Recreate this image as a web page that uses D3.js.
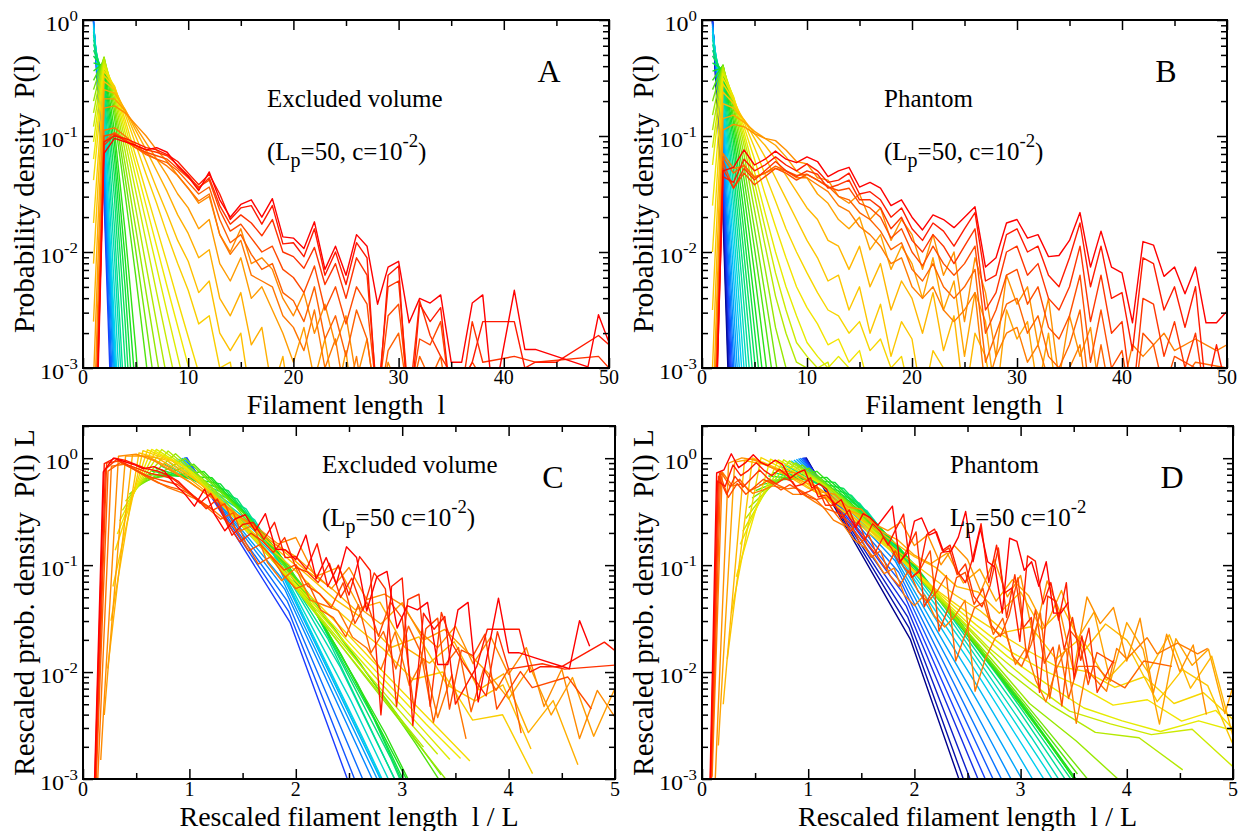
<!DOCTYPE html>
<html>
<head>
<meta charset="utf-8">
<title>Filament length distributions</title>
<script src="https://cdn.jsdelivr.net/npm/d3@7"></script>
<style>
  body { margin: 0; background: #fff; }
  svg text { font-family: "Liberation Serif", "Times New Roman", Times, serif; fill: #000; }
</style>
</head>
<body>
<svg id="chart" width="1245" height="831"></svg>
<script>
// log10 P(l) for l = 1, 2, 3, ...  (null = no filament of that length)
const excludedLogP = [
  [-0.005, -1.55, -4.2],
  [-0.008, -1.45, -3.9],
  [-0.012, -1.35, -3.6],
  [-0.018, -1.25, -3.3, -5],
  [-0.03, -1.15, -3.1, -5],
  [-0.04, -1.05, -2.95, -4.9],
  [-0.055, -0.95, -2.8, -4.7],
  [-0.075, -0.86, -2.65, -4.5],
  [-0.1, -0.76, -2.35, -4.1],
  [-0.13, -0.67, -2.05, -3.7],
  [-0.17, -0.59, -1.8, -3.4, -5.2],
  [-0.21, -0.52, -1.55, -2.95, -4.6],
  [-0.26, -0.47, -1.36, -2.6, -4.1],
  [-0.31, -0.43, -1.2, -2.3, -3.65],
  [-0.37, -0.4, -1.07, -2.05, -3.2, -4.5],
  [-0.44, -0.37, -0.96, -1.82, -2.82, -3.95],
  [-0.52, -0.34, -0.85, -1.5, -2.2, -2.95, -3.75],
  [-0.6, -0.32, -0.78, -1.36, -1.98, -2.62, -3.28],
  [-0.7, -0.32, -0.72, -1.24, -1.79, -2.35, -2.9, -3.45],
  [-0.8, -0.33, -0.67, -1.13, -1.62, -2.12, -2.61, -3.1],
  [-0.92, -0.35, -0.63, -1.04, -1.47, -1.91, -2.35, -2.78, -3.2],
  [-1.05, -0.38, -0.6, -0.97, -1.35, -1.74, -2.13, -2.52, -2.9, -3.28],
  [-1.2, -0.41, -0.58, -0.91, -1.25, -1.6, -1.95, -2.3, -2.64, -2.98, -3.3],
  [-1.38, -0.44, -0.57, -0.86, -1.17, -1.48, -1.79, -2.1, -2.42, -2.73, -3.04, -3.35],
  [-1.75, -0.48, -0.58, -0.81, -1.07, -1.33, -1.58, -1.85, -2.1, -2.33, -2.62, -2.55, -3.0, -2.95, -3.5],
  [-2.1, -0.53, -0.6, -0.78, -1.0, -1.22, -1.45, -1.67, -1.9, -2.08, -2.35, -2.25, -2.7, -2.85, -2.7, -3.3],
  [-2.6, -0.6, -0.63, -0.77, -0.95, -1.12, -1.3, -1.48, -1.68, -1.84, -2.05, -1.98, -2.4, -2.55, -2.35, -2.8, -2.65, -3.2, -2.9, -3.5],
  [-3.1, -0.68, -0.68, -0.78, -0.92, -1.06, -1.2, -1.34, -1.5, -1.62, -1.8, -1.72, -2.1, -2.25, -2.05, -2.4, -2.3, -2.5, -2.7, -2.95, -2.65, -3.1, -2.75, -3.3, -2.85, -3.6],
  [-3.6, -0.76, -0.74, -0.8, -0.9, -1.0, -1.12, -1.22, -1.34, -1.45, -1.58, -1.52, -1.85, -2.0, -1.8, -2.1, -2.05, -2.15, -2.4, -2.55, -2.35, -2.7, -2.45, -2.8, -2.55, -3.1, -2.75, -3.4, -2.95, -3.2, -3.6],
  [-4.0, -0.95, -0.93, -1.0, -1.08, -1.15, -1.2, -1.26, -1.34, -1.45, -1.56, -1.5, -1.85, -2.02, -1.9, -2.2, -2.25, -2.3, -2.55, -2.65, -2.85, -2.5, -3.0, -2.75, -3.3, -2.9, -3.5],
  [-4.1, -1.05, -0.97, -1.03, -1.1, -1.16, -1.2, -1.23, -1.3, -1.4, -1.5, -1.44, -1.72, -1.92, -1.85, -2.02, -2.15, -2.1, -2.35, -2.42, -2.6, -2.3, -2.75, -2.55, -2.9, -2.5, -2.75, -3.4, -2.85, -2.7, -3.3, -2.9, -3.1, -2.9, -3.5],
  [-4.2, -1.0, -0.98, -1.04, -1.1, -1.14, -1.17, -1.2, -1.28, -1.36, -1.44, -1.38, -1.64, -1.82, -1.76, -1.88, -2.0, -1.95, -2.15, -2.22, -2.35, -2.12, -2.5, -2.3, -2.62, -2.3, -2.45, -3.3, -2.55, -2.45, -3.3, -2.75, -2.8, -2.6, -3.3, null, -2.95, -3.1, null, null, -3.0, null, -3.3],
  [-4.3, -1.08, -0.99, -1.04, -1.08, -1.12, -1.14, -1.17, -1.25, -1.34, -1.45, -1.36, -1.6, -1.76, -1.68, -1.75, -1.86, -1.72, -2.0, -2.04, -2.14, -1.96, -2.28, -2.1, -2.4, -2.05, -2.2, -3.3, -2.3, -2.25, -3.3, -2.42, -2.72, -2.9, null, -3.2, -2.6, -2.95, null, null, -2.9, null, -2.95, null, null, null, null, null, -2.9, -3.0],
  [-4.4, -1.05, -1.0, -1.02, -1.06, -1.1, -1.12, -1.16, -1.22, -1.32, -1.42, -1.33, -1.5, -1.72, -1.62, -1.6, -1.76, -1.6, -1.93, -1.92, -2.04, -1.8, -2.2, -2.0, -2.28, -1.92, -2.05, -3.4, -2.2, -2.12, -3.5, -2.45, -2.6, -2.48, -3.3, null, -2.95, -2.6, null, null, -2.6, -3.0, -2.95, -2.95, -2.95, null, null, null, -2.72, -2.8],
  [-4.5, -1.15, -1.02, -1.05, -1.08, -1.12, -1.1, -1.14, -1.26, -1.35, -1.47, -1.31, -1.55, -1.7, -1.59, -1.55, -1.7, -1.54, -1.87, -1.88, -1.97, -1.74, -2.15, -1.95, -2.2, -1.85, -1.95, -2.45, -2.13, -2.08, -2.61, -2.4, -2.44, -2.37, -2.95, -2.95, -2.44, -2.37, -3.3, null, -2.33, -2.84, -2.84, null, -2.9, null, null, -2.99, -2.54, -2.78]
];
// mean filament length L of each distribution (excluded volume)
const excludedMeanL = [1.027, 1.034, 1.043, 1.054, 1.072, 1.09, 1.116, 1.146, 1.19, 1.24, 1.305, 1.382,
  1.464, 1.55, 1.65, 1.76, 1.92, 2.08, 2.3, 2.5, 2.7, 2.9, 3.1, 3.3, 3.55, 3.8, 4.3, 5.0, 6.0,
  7.5, 8.5, 9.0, 9.5, 10.0, 10.5];

const phantomLogP = [
  [-0.003, -1.7, -4.5],
  [-0.005, -1.6, -4.3],
  [-0.008, -1.5, -4.0],
  [-0.012, -1.4, -3.7],
  [-0.017, -1.3, -3.45],
  [-0.024, -1.2, -3.2, -5],
  [-0.033, -1.1, -2.95, -4.8],
  [-0.045, -1.0, -2.7, -4.4],
  [-0.06, -0.91, -2.45, -4.0],
  [-0.08, -0.82, -2.2, -3.65],
  [-0.1, -0.74, -1.98, -3.3, -4.7],
  [-0.13, -0.67, -1.78, -3.0, -4.3],
  [-0.17, -0.6, -1.6, -2.72, -3.9],
  [-0.21, -0.55, -1.44, -2.46, -3.55],
  [-0.26, -0.5, -1.3, -2.23, -3.22, -4.3],
  [-0.31, -0.46, -1.17, -2.02, -2.93, -3.9],
  [-0.37, -0.43, -1.06, -1.83, -2.67, -3.55],
  [-0.44, -0.41, -0.97, -1.66, -2.43, -3.24, -4.1],
  [-0.52, -0.39, -0.89, -1.5, -2.18, -2.9, -3.65],
  [-0.6, -0.39, -0.83, -1.37, -1.97, -2.6, -3.25],
  [-0.7, -0.39, -0.77, -1.26, -1.8, -2.36, -2.93, -3.5],
  [-0.82, -0.4, -0.73, -1.16, -1.64, -2.14, -2.65, -3.0, -3.4],
  [-0.95, -0.41, -0.69, -1.08, -1.5, -1.94, -2.38, -2.7, -2.95, -3.0, -3.3],
  [-1.1, -0.43, -0.67, -1.02, -1.4, -1.79, -2.18, -2.5, -2.78, -2.9, -3.0, -2.95, -3.3],
  [-1.25, -0.46, -0.66, -0.97, -1.31, -1.66, -2.0, -2.3, -2.55, -2.78, -2.9, -3.0, -2.9, -3.0, -3.4],
  [-1.6, -0.5, -0.67, -0.92, -1.2, -1.5, -1.78, -2.05, -2.3, -2.48, -2.62, -2.8, -2.75, -2.95, -2.85, -3.2],
  [-2.0, -0.55, -0.69, -0.88, -1.1, -1.33, -1.56, -1.8, -2.0, -2.18, -2.35, -2.5, -2.55, -2.7, -2.6, -2.85, -2.75, -3.0, -2.9, -3.3],
  [-2.5, -0.62, -0.72, -0.86, -1.02, -1.18, -1.36, -1.54, -1.72, -1.9, -2.05, -2.25, -2.2, -2.5, -2.3, -2.7, -2.45, -2.9, -2.6, -2.75, -3.3, -2.85, -3.0, -3.4],
  [-3.0, -0.72, -0.76, -0.86, -0.98, -1.08, -1.2, -1.34, -1.48, -1.62, -1.72, -1.9, -1.95, -2.15, -1.95, -2.3, -2.1, -2.5, -2.25, -2.4, -2.7, -2.35, -2.85, -2.55, -3.3, -2.7, -2.9, -3.4],
  [-3.5, -0.85, -0.82, -0.88, -0.96, -1.02, -1.08, -1.18, -1.3, -1.36, -1.5, -1.58, -1.72, -1.8, -1.7, -1.98, -1.85, -2.15, -1.95, -2.1, -2.4, -2.05, -2.5, -2.25, -2.9, -2.35, -2.6, -3.3, -2.5, -2.75, -2.6, -3.2, -2.7, -3.4],
  [-3.9, -0.95, -0.9, -0.92, -0.98, -1.02, -1.04, -1.12, -1.22, -1.24, -1.36, -1.38, -1.52, -1.58, -1.5, -1.72, -1.62, -1.9, -1.72, -1.85, -2.15, -1.85, -2.2, -2.0, -2.6, -2.05, -2.35, -2.9, -2.2, -2.45, -2.3, -2.8, -2.4, -3.1, -2.55, -2.9, -2.65, -3.3],
  [-4.0, -1.15, -1.28, -1.26, -1.35, -1.32, -1.28, -1.3, -1.36, -1.36, -1.42, -1.48, -1.6, -1.65, -1.78, -1.85, -1.95, -2.1, -2.05, -2.3, -2.4, -2.3, -2.5, -2.6, -2.5, -2.35, -3.2, -2.9, -2.7, -2.65, -2.95, -2.8, -3.1, -3.3, -3.0, -2.8, -3.5, -3.0, null, -3.2, -2.8, -2.9, null, -2.7, -2.85, null, -2.75, -2.8, -2.85, -2.8],
  [-4.1, -1.18, -1.32, -1.25, -1.36, -1.32, -1.26, -1.3, -1.34, -1.33, -1.38, -1.43, -1.52, -1.55, -1.66, -1.72, -1.82, -1.98, -1.92, -2.15, -2.25, -2.1, -2.3, -2.4, -2.3, -2.15, -2.95, -2.7, -2.45, -2.4, -2.7, -2.55, -2.9, -3.0, -2.8, -2.5, -3.3, -2.8, -3.3, -3.0, null, -3.0, -3.1, null, -3.2, null, -2.95, null, null, -3.0],
  [-4.2, -1.22, -1.45, -1.32, -1.42, -1.35, -1.28, -1.32, -1.38, -1.33, -1.38, -1.44, -1.47, -1.45, -1.58, -1.62, -1.7, -1.88, -1.8, -2.0, -2.12, -1.95, -2.1, -2.2, -2.1, -1.95, -2.7, -2.5, -2.2, -2.15, -2.45, -2.3, -2.65, -2.75, -2.55, -2.2, -2.95, -2.5, -3.0, -2.85, -3.4, -2.7, -2.8, -3.2, -2.9, null, -3.0, null, null, null],
  [-4.3, -1.28, -1.45, -1.28, -1.38, -1.3, -1.22, -1.3, -1.35, -1.3, -1.33, -1.45, -1.42, -1.38, -1.55, -1.55, -1.62, -1.8, -1.7, -1.9, -2.0, -1.85, -1.95, -2.1, -1.95, -1.8, -2.5, -2.35, -2.0, -1.95, -2.2, -2.1, -2.4, -2.5, -2.3, -1.95, -2.6, -2.2, -2.7, -2.6, -3.3, -2.4, -2.45, -2.9, -2.6, -3.0, -2.7, -3.3, null, -3.0],
  [-4.4, -1.35, -1.4, -1.2, -1.3, -1.25, -1.18, -1.25, -1.3, -1.24, -1.3, -1.4, -1.38, -1.32, -1.5, -1.48, -1.55, -1.7, -1.62, -1.8, -1.9, -1.75, -1.82, -1.95, -1.8, -1.66, -2.25, -2.2, -1.85, -1.8, -2.0, -1.95, -2.2, -2.3, -2.05, -1.75, -2.3, -1.95, -2.4, -2.35, -2.85, -2.05, -2.1, -2.5, -2.3, -2.65, -2.3, -3.2, -2.8, -3.2],
  [-4.5, -1.3, -1.27, -1.12, -1.25, -1.2, -1.13, -1.2, -1.23, -1.18, -1.22, -1.35, -1.3, -1.27, -1.44, -1.4, -1.45, -1.6, -1.55, -1.7, -1.81, -1.68, -1.72, -1.79, -1.7, -1.61, -2.13, -2.05, -1.75, -1.72, -1.88, -1.85, -2.04, -2.03, -1.9, -1.66, -2.13, -1.82, -2.13, -2.18, -2.61, -1.91, -1.94, -2.21, -2.13, -2.36, -2.13, -2.61, -2.61, -2.51]
];
// mean filament length L of each distribution (phantom)
const phantomMeanL = [1.02, 1.025, 1.032, 1.04, 1.05, 1.063, 1.08, 1.1, 1.125, 1.155, 1.19, 1.235,
  1.29, 1.35, 1.42, 1.5, 1.6, 1.7, 1.85, 1.98, 2.12, 2.27, 2.43, 2.6, 2.78, 3.1, 3.6, 4.2, 5.0,
  6.5, 8.0, 10.5, 11.3, 12.1, 12.9, 13.7, 14.5];

const lengthTicks = [0, 10, 20, 30, 40, 50];
const lengthMinor = [5, 15, 25, 35, 45];
const rescaledTicks = [0, 1, 2, 3, 4, 5];
const rescaledMinor = [0.5, 1.5, 2.5, 3.5, 4.5];
const decadeTicks = [1e-3, 1e-2, 1e-1, 1];
const decadeLabels = ['-3', '-2', '-1', '0'];

const svg = d3.select('#chart');

const rainbow = d3.scaleLinear()
  .domain([-0.12, 0, 0.1, 0.2, 0.3, 0.42, 0.54, 0.64, 0.74, 0.84, 0.93, 1])
  .range(['#00008c', '#1a3cff', '#0090ff', '#00d4f0', '#00e08a', '#18e018', '#a0e800',
    '#f0ec00', '#ffbe00', '#ff8000', '#ff3c00', '#ff0000']);

// text with sub/superscripts; parts = [[string, 'n' | 'sup' | 'sub'], ...]
function rich(parent, x, y, parts, o) {
  const size = o.size;
  let tf = `translate(${x},${y})`;
  if (o.rotate) tf += ` rotate(${o.rotate})`;
  if (o.sx) tf += ` scale(${o.sx},1)`;
  const t = parent.append('text')
    .attr('transform', tf)
    .attr('font-size', size)
    .attr('text-anchor', o.anchor || 'start');
  let shift = 0;
  parts.forEach(([s, kind]) => {
    let off = 0;
    let fs = size;
    if (kind === 'sup') { off = -size * (o.supRise || 0.5); fs = size * (o.supScale || 0.72); }
    if (kind === 'sub') { off = size * (o.subDrop || 0.28); fs = size * (o.subScale || 0.8); }
    t.append('tspan').attr('dy', off - shift).attr('font-size', fs).text(s);
    shift = off;
  });
  return t;
}

function drawPanel(p) {
  const x = d3.scaleLinear().domain(p.xDomain).range([p.left, p.right]);
  const y = d3.scaleLog().domain(p.yDomain).range([p.bottom, p.top]);
  const g = svg.append('g');
  const clipId = 'clip-' + p.letter;

  svg.append('clipPath').attr('id', clipId)
    .append('rect')
    .attr('x', p.left).attr('y', p.top)
    .attr('width', p.right - p.left).attr('height', p.bottom - p.top);

  const line = d3.line().x(d => x(d[0])).y(d => y(d[1]));
  const curves = g.append('g').attr('clip-path', `url(#${clipId})`);
  const n = p.logP.length;

  p.logP.forEach((vals, k) => {
    const L = p.meanL[k];
    let pts = vals
      .map((v, i) => (v === null ? null : [i + 1, Math.pow(10, v)]))
      .filter(d => d);
    if (p.rescaled) pts = pts.map(([l, v]) => [l / L, v * L]);
    const t = p.colorStart + (1 - p.colorStart) * k / (n - 1);
    curves.append('path')
      .attr('d', line(pts))
      .attr('fill', 'none')
      .attr('stroke', rainbow(t))
      .attr('stroke-width', 1.4)
      .attr('stroke-linejoin', 'round');
  });

  // ticks (inward, on all four sides)
  const yMinor = [];
  for (let d = -3; d <= 0; d++) {
    for (let m = 2; m <= 9; m++) {
      const v = m * Math.pow(10, d);
      if (v > p.yDomain[0] && v <= p.yDomain[1]) yMinor.push(v);
    }
  }
  const axes = [
    [d3.axisBottom(x).tickValues(p.xMajor).tickSize(-10), `translate(0,${p.bottom})`],
    [d3.axisBottom(x).tickValues(p.xMinor).tickSize(-6), `translate(0,${p.bottom})`],
    [d3.axisTop(x).tickValues(p.xMajor).tickSize(-10), `translate(0,${p.top})`],
    [d3.axisTop(x).tickValues(p.xMinor).tickSize(-6), `translate(0,${p.top})`],
    [d3.axisLeft(y).tickValues(decadeTicks).tickSize(-10), `translate(${p.left},0)`],
    [d3.axisLeft(y).tickValues(yMinor).tickSize(-6), `translate(${p.left},0)`],
    [d3.axisRight(y).tickValues(decadeTicks).tickSize(-10), `translate(${p.right},0)`],
    [d3.axisRight(y).tickValues(yMinor).tickSize(-6), `translate(${p.right},0)`]
  ];
  axes.forEach(([ax, tf]) => {
    const a = g.append('g').attr('transform', tf).call(ax.tickFormat(''));
    a.select('.domain').remove();
    a.selectAll('.tick text').remove();
    a.selectAll('.tick line').attr('stroke', '#000').attr('stroke-width', 1.5);
  });

  g.append('rect')
    .attr('x', p.left).attr('y', p.top)
    .attr('width', p.right - p.left).attr('height', p.bottom - p.top)
    .attr('fill', 'none').attr('stroke', '#000').attr('stroke-width', 2);

  // tick labels
  p.xMajor.forEach(v => {
    g.append('text')
      .attr('x', x(v)).attr('y', p.bottom + p.tickDy)
      .attr('font-size', 20).attr('text-anchor', 'middle')
      .text(v);
  });
  decadeTicks.forEach((v, i) => {
    rich(g, p.left - 5, y(v) + 11, [['10', 'n'], [decadeLabels[i], 'sup']],
      { size: 20, anchor: 'end', sx: 1.2, supRise: 0.5, supScale: 0.7 });
  });

  // axis titles
  rich(g, p.left - 49, (p.top + p.bottom) / 2, [[p.yTitle, 'n']],
    { size: 29, anchor: 'middle', rotate: -90 });
  rich(g, (p.left + p.right) / 2, p.bottom + p.xTitleDy, [[p.xTitle, 'n']],
    { size: 28, anchor: 'middle' });

  // panel letter and annotations
  g.append('text')
    .attr('x', p.letterX).attr('y', p.top + 62)
    .attr('font-size', 32).attr('text-anchor', 'middle')
    .text(p.letter);
  rich(g, p.noteX, p.noteY, [[p.model, 'n']], { size: 25 });
  rich(g, p.noteX, p.noteY + 53, p.params,
    { size: 25, subScale: 0.8, subDrop: 0.28, supScale: 0.75, supRise: 0.52 });
}

const sp = '\u00a0\u00a0';
const paramsComma = [['(L', 'n'], ['p', 'sub'], ['=50, c=10', 'n'], ['-2', 'sup'], [')', 'n']];
const paramsParen = [['(L', 'n'], ['p', 'sub'], ['=50 c=10', 'n'], ['-2', 'sup'], [')', 'n']];
const paramsBare = [['L', 'n'], ['p', 'sub'], ['=50 c=10', 'n'], ['-2', 'sup']];

const panels = [
  {
    letter: 'A', model: 'Excluded volume', params: paramsComma,
    logP: excludedLogP, meanL: excludedMeanL, rescaled: false, colorStart: 0,
    left: 83, right: 609, top: 20, bottom: 368,
    xDomain: [0, 50], yDomain: [1e-3, 1], xMajor: lengthTicks, xMinor: lengthMinor,
    yTitle: 'Probability density' + sp + 'P(l)', xTitle: 'Filament length' + sp + 'l',
    tickDy: 16, xTitleDy: 46,
    letterX: 549, noteX: 267, noteY: 107
  },
  {
    letter: 'B', model: 'Phantom', params: paramsComma,
    logP: phantomLogP, meanL: phantomMeanL, rescaled: false, colorStart: -0.12,
    left: 702, right: 1227, top: 20, bottom: 368,
    xDomain: [0, 50], yDomain: [1e-3, 1], xMajor: lengthTicks, xMinor: lengthMinor,
    yTitle: 'Probability density' + sp + 'P(l)', xTitle: 'Filament length' + sp + 'l',
    tickDy: 16, xTitleDy: 46,
    letterX: 1166, noteX: 884, noteY: 107
  },
  {
    letter: 'C', model: 'Excluded volume', params: paramsParen,
    logP: excludedLogP, meanL: excludedMeanL, rescaled: true, colorStart: 0,
    left: 83, right: 615, top: 426, bottom: 779,
    xDomain: [0, 5], yDomain: [1e-3, 2], xMajor: rescaledTicks, xMinor: rescaledMinor,
    yTitle: 'Rescaled prob. density' + sp + 'P(l) L', xTitle: 'Rescaled filament length' + sp + 'l / L',
    tickDy: 17, xTitleDy: 47,
    letterX: 553, noteX: 322, noteY: 473
  },
  {
    letter: 'D', model: 'Phantom', params: paramsBare,
    logP: phantomLogP, meanL: phantomMeanL, rescaled: true, colorStart: -0.12,
    left: 702, right: 1233, top: 426, bottom: 779,
    xDomain: [0, 5], yDomain: [1e-3, 2], xMajor: rescaledTicks, xMinor: rescaledMinor,
    yTitle: 'Rescaled prob. density' + sp + 'P(l) L', xTitle: 'Rescaled filament length' + sp + 'l / L',
    tickDy: 17, xTitleDy: 47,
    letterX: 1172, noteX: 950, noteY: 473
  }
];

panels.forEach(drawPanel);
</script>
</body>
</html>
